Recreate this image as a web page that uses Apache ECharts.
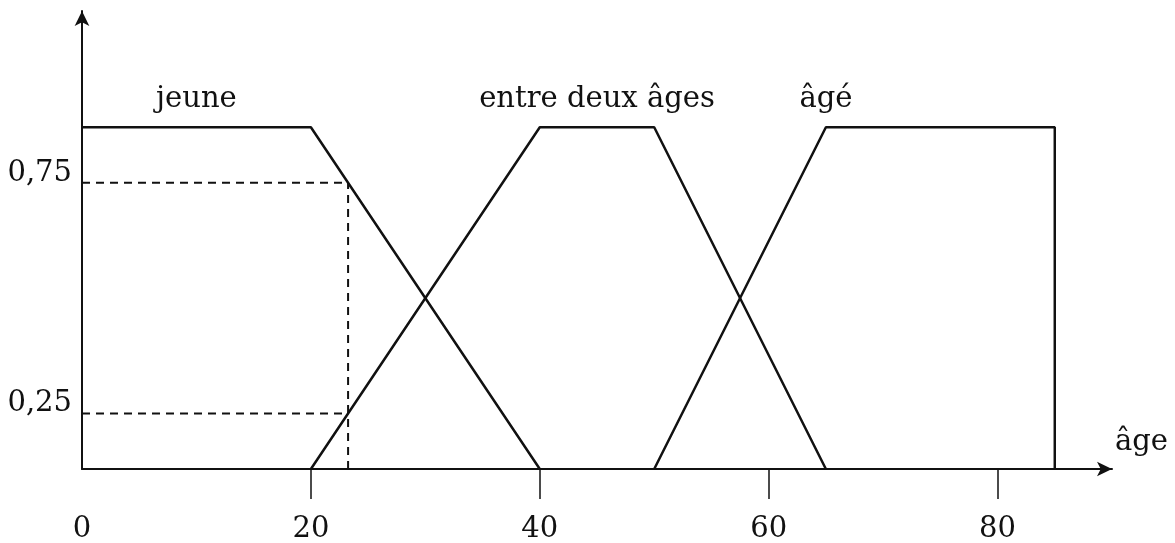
<!DOCTYPE html>
<html lang="fr">
<head>
    <meta charset="UTF-8">
    <title>Ensembles flous : âge</title>
    <style>
        html, body {
            margin: 0;
            height: 100%;
            width: 100%;
            background: #fff;
        }
        .myEcharts {
            width: 1175px;
            height: 543px;
        }
    </style>
</head>
<body>
    <div id="main" class="myEcharts"></div>
    <script src="https://cdn.jsdelivr.net/npm/echarts@6/dist/echarts.min.js"></script>
    <script>
        // fonctions d'appartenance (âge, degré)
        var jeuneX = [0, 20, 40];
        var jeuneY = [1, 1, 0];
        var entreX = [20, 40, 50, 65];
        var entreY = [0, 1, 1, 0];
        var ageX = [50, 65, 85, 85];
        var ageY = [0, 1, 1, 0];

        // point
        var ageLu = 23.25;
        var degresLus = [0.8375, 0.1625];

        var noms = ['jeune', 'entre deux âges', 'âgé'];
        var nomsX = [10, 45, 65];
        var nomsY = [1.08, 1.08, 1.08];

        var xTicks = [20, 40, 60, 80];
        var xLabels = [0, 20, 40, 60, 80];
        var yTicks = [0.1625, 0.8375];
        var yLabels = ['0,25', '0,75'];

        function pts(xs, ys) {
            return xs.map(function (x, i) { return [x, ys[i]]; });
        }

        var font = 'DejaVu Serif';
        var ink = '#111';

        var myCharts = echarts.init(document.getElementById('main'));

        var solid = { color: ink, width: 2.5 };
        var dashed = { color: ink, width: 2, type: [8, 6] };

        option = {
            animation: false,
            backgroundColor: '#fff',
            grid: { left: 82, right: 63, top: 11, bottom: 74, outerBoundsMode: 'none' },
            xAxis: {
                type: 'value',
                min: 0,
                max: 90,
                interval: 20,
                name: 'âge',
                nameLocation: 'end',
                nameGap: 3,
                nameTextStyle: { fontFamily: font, fontSize: 29, color: ink, verticalAlign: 'bottom', padding: [0, 0, 12, 0] },
                axisLine: { lineStyle: { color: ink, width: 2 }, symbol: ['none', 'arrow'], symbolSize: [11, 15] },
                axisTick: { show: true, length: 30, customValues: xTicks, lineStyle: { color: ink, width: 1.5 } },
                axisLabel: { customValues: xLabels, margin: 46, fontFamily: font, fontSize: 29, color: ink },
                splitLine: { show: false }
            },
            yAxis: {
                type: 'value',
                min: 0,
                max: 1.34,
                axisLine: { show: true, lineStyle: { color: ink, width: 2 }, symbol: ['none', 'arrow'], symbolSize: [11, 15] },
                axisTick: { show: false },
                axisLabel: {
                    customValues: yTicks,
                    margin: 10,
                    verticalAlign: 'bottom',
                    padding: [0, 0, -5, 0],
                    fontFamily: font,
                    fontSize: 29,
                    color: ink,
                    formatter: function (v) {
                        return yLabels[yTicks.indexOf(v)];
                    }
                },
                splitLine: { show: false }
            },
            series: [
                { name: noms[0], type: 'line', symbol: 'none', lineStyle: solid, data: pts(jeuneX, jeuneY) },
                { name: noms[1], type: 'line', symbol: 'none', lineStyle: solid, data: pts(entreX, entreY) },
                { name: noms[2], type: 'line', symbol: 'none', lineStyle: solid, data: pts(ageX, ageY) },
                { type: 'line', symbol: 'none', lineStyle: dashed, data: [[0, degresLus[0]], [ageLu, degresLus[0]]] },
                { type: 'line', symbol: 'none', lineStyle: dashed, data: [[0, degresLus[1]], [ageLu, degresLus[1]]] },
                { type: 'line', symbol: 'none', lineStyle: dashed, data: [[ageLu, 0], [ageLu, degresLus[0]]] },
                {
                    type: 'scatter',
                    symbolSize: 0,
                    silent: true,
                    itemStyle: { opacity: 1, color: ink },
                    label: {
                        show: true,
                        position: 'inside',
                        fontFamily: font,
                        fontSize: 29,
                        color: ink,
                        opacity: 1,
                        formatter: function (p) { return noms[p.dataIndex]; }
                    },
                    data: pts(nomsX, nomsY)
                }
            ]
        };
        myCharts.setOption(option);
    </script>
</body>
</html>
